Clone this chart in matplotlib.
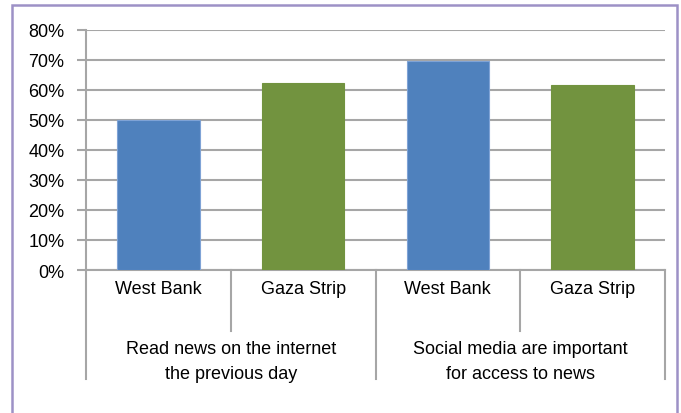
import matplotlib.pyplot as plt
from matplotlib.patches import Rectangle
from matplotlib.ticker import PercentFormatter

plt.rcParams['font.family'] = ['Liberation Sans', 'DejaVu Sans']

regions = ['West Bank', 'Gaza Strip', 'West Bank', 'Gaza Strip']
groups = ['Read news on the internet\nthe previous day',
          'Social media are important\nfor access to news']
values = [50.0, 62.3, 69.7, 61.7]
colors = ['#4f81bd', '#72933f', '#4f81bd', '#72933f']
edges = ['#7fa3d6', '#72933f', '#7fa3d6', '#72933f']

W, H = 681, 414
fig = plt.figure(figsize=(W / 100, H / 100), dpi=100)

# outer frame
fig.patches.append(Rectangle((12 / W, -0.02), 665 / W, 1 - 6 / H + 0.02,
                             transform=fig.transFigure, fill=False,
                             edgecolor='#9d91c6', linewidth=1.8))

ax = fig.add_axes([86 / W, 1 - 271 / H, 579 / W, 240 / H])
x = range(len(values))
ax.bar(x, values, width=0.57, color=colors, edgecolor=edges, linewidth=0.8,
       zorder=3)

grid_c = '#a6a6a6'
ax.set_xlim(-0.5, 3.5)
ax.set_ylim(0, 80)
ax.set_yticks(range(0, 81, 10))
ax.yaxis.set_major_formatter(PercentFormatter(decimals=0))
ax.yaxis.grid(True, color=grid_c, linewidth=1.5, zorder=0)
ax.tick_params(axis='y', length=6.5, width=1.5, color=grid_c,
               labelsize=13, pad=9)
ax.set_xticks([])
for s in ['top', 'right']:
    ax.spines[s].set_visible(False)
for s in ['left', 'bottom']:
    ax.spines[s].set_color(grid_c)
    ax.spines[s].set_linewidth(1.5)

# two-level category axis
tr = ax.get_xaxis_transform()
for xs in [-0.5, 1.5, 3.5]:
    ax.plot([xs, xs], [0, -0.454], transform=tr, color=grid_c, lw=1.5,
            clip_on=False)
for xs in [0.5, 2.5]:
    ax.plot([xs, xs], [0, -0.254], transform=tr, color=grid_c, lw=1.5,
            clip_on=False)
for i, lab in enumerate(regions):
    ax.text(i, -0.075, lab, transform=tr, ha='center', va='center',
            fontsize=13)
for j, g in enumerate(groups):
    ax.text(2 * j + 0.5, -0.379, g, transform=tr, ha='center', va='center',
            fontsize=13, linespacing=1.6)

fig.savefig('out.png', dpi=100)
